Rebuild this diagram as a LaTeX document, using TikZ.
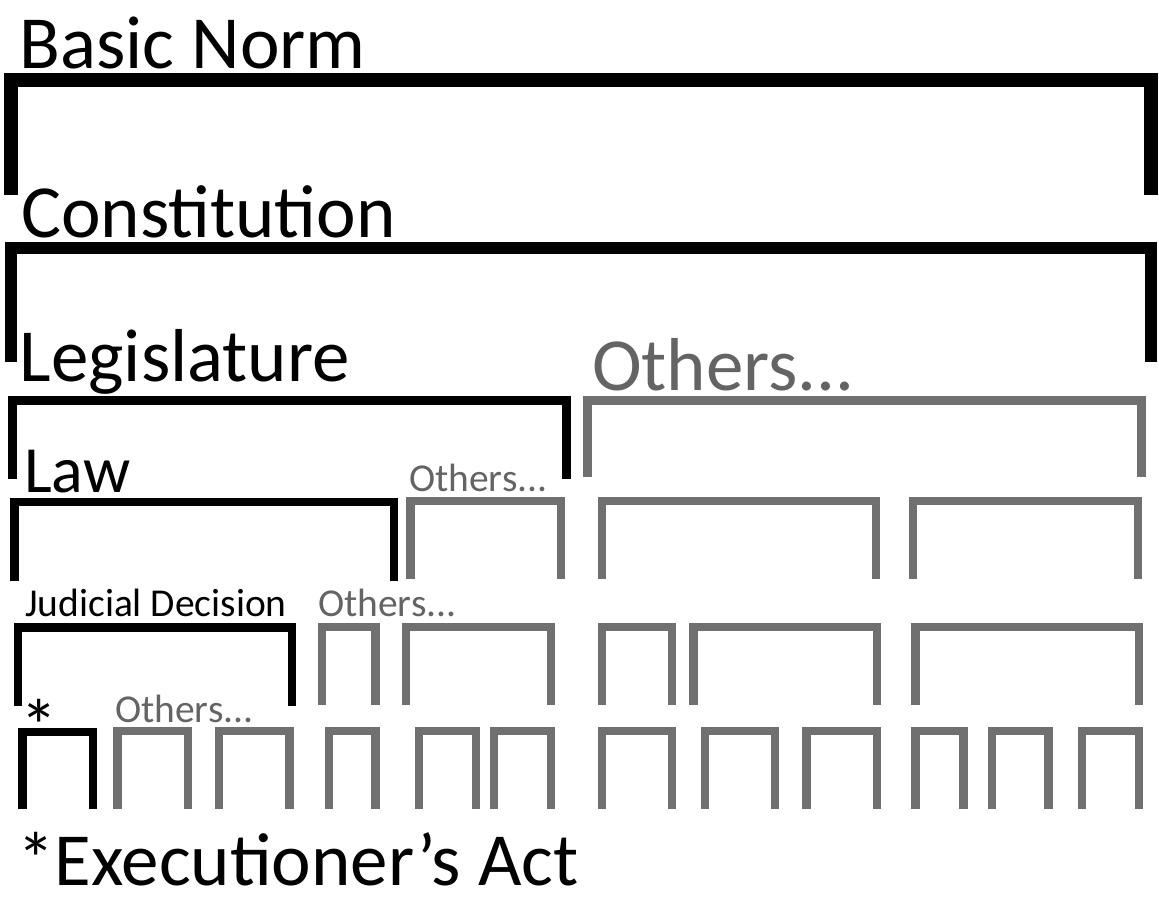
\documentclass[tikz,border=0pt]{standalone}
\usepackage{fontspec}
\setmainfont{Carlito}
\definecolor{grayline}{RGB}{112,112,112}
\definecolor{graytext}{RGB}{100,100,100}
\tikzset{
  brk/.style={line join=miter, line cap=butt},
  blk/.style={brk, draw=black},
  gry/.style={brk, draw=grayline},
  w1/.style={line width=14pt},
  w2/.style={line width=12pt},
  w3/.style={line width=9pt},
  w4/.style={line width=8.5pt},
  lbl/.style={anchor=base west, inner sep=0pt, text depth=0pt},
  big/.style={lbl, font=\fontsize{75}{80}\selectfont},
  mid/.style={lbl, font=\fontsize{66}{70}\selectfont},
  small/.style={lbl, font=\fontsize{39.5}{44}\selectfont},
}
\newcommand{\brkt}[5]{\draw[#1] (#2,#5) -- (#2,#4) -- (#3,#4) -- (#3,#5);}
\begin{document}
\begin{tikzpicture}[x=1pt,y=-1pt]
\useasboundingbox (0,0) rectangle (1159,899);
% texts
\node[big] (basic) at (19.5,68) {Basic Norm};
\node[big] (const) at (21,237) {Constitution};
\node[big] (legis) at (19.5,381) {Legislature};
\node[big, text=graytext] (oth3) at (592,390) {Others...};
\node[mid] (law) at (24,492) {Law};
\node[small, text=graytext] (oth4) at (409,491) {Others...};
\node[small] (jud) at (25,616) {Judicial Decision};
\node[small, text=graytext] (oth5) at (318,616) {Others...};
\node[big] (star) at (20,752) {*};
\node[small, text=graytext] (oth6) at (115,722) {Others...};
\node[big] (exec) at (17,885) {*Executioner’s Act};
% level 1
\brkt{blk,w1}{10.5}{1151}{80}{195}
% level 2
\brkt{blk,w2}{11}{1151}{248}{362}
% level 3
\brkt{blk,w3}{12}{566}{400}{479}
\brkt{gry,w3}{587.5}{1141}{400}{477}
% level 4
\brkt{blk,w4}{14.5}{394}{502}{581}
\brkt{gry,w4}{410.5}{561}{501}{579}
\brkt{gry,w4}{602}{876}{501}{579}
\brkt{gry,w4}{913}{1138}{501}{579}
% level 5
\brkt{blk,w4}{18}{292}{627.5}{706}
\brkt{gry,w4}{322}{375.5}{627}{705}
\brkt{gry,w4}{406}{551}{627}{705}
\brkt{gry,w4}{602}{672}{627}{705}
\brkt{gry,w4}{693.5}{877}{627}{705}
\brkt{gry,w4}{915.6}{1139}{627}{705}
% level 6
\brkt{blk,w4}{22.6}{93}{732}{809}
\brkt{gry,w4}{117.7}{188}{731}{809}
\brkt{gry,w4}{219}{289.5}{731}{809}
\brkt{gry,w4}{329}{375.5}{731}{809}
\brkt{gry,w4}{419}{476}{731}{809}
\brkt{gry,w4}{494}{551}{731}{809}
\brkt{gry,w4}{602}{672}{731}{809}
\brkt{gry,w4}{705}{775}{731}{809}
\brkt{gry,w4}{806.5}{877}{731}{809}
\brkt{gry,w4}{915.6}{963.7}{731}{809}
\brkt{gry,w4}{992}{1048.6}{731}{809}
\brkt{gry,w4}{1082}{1139}{731}{809}
\end{tikzpicture}
\end{document}
